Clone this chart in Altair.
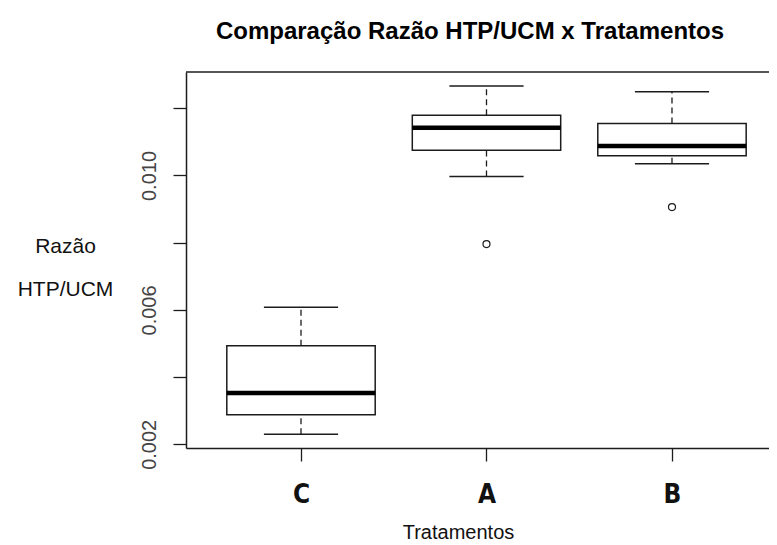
import json
import altair as alt
import pandas as pd

# ---- data ----
categories = ["C", "A", "B"]
positions = [1, 2, 3]
whisker_low = [0.00230, 0.00997, 0.01035]
q1 = [0.00288, 0.01075, 0.01059]
median = [0.00353, 0.01142, 0.01088]
q3 = [0.00493, 0.01179, 0.01155]
whisker_high = [0.00608, 0.01266, 0.01249]
outlier_category = ["A", "B"]
outlier_position = [2, 3]
outlier_value = [0.00796, 0.00906]
y_ticks = [0.002, 0.004, 0.006, 0.008, 0.010, 0.012]
y_labelled = ["0.002", "0.006", "0.010"]
title_text = ["Comparação Razão HTP/UCM x Tratamentos"]

box_df = pd.DataFrame({
    "cat": categories, "pos": positions, "lo": whisker_low, "q1": q1,
    "med": median, "q3": q3, "hi": whisker_high,
})
out_df = pd.DataFrame({"cat": outlier_category, "pos": outlier_position, "val": outlier_value})
frame_df = pd.DataFrame({"k": [0]})
title_df = pd.DataFrame({"t": title_text})

W, H = 583, 376
FONT = "Liberation Sans"
INK = "#1c1c1c"

xscale = alt.Scale(domain=[0.38, 3.523], nice=False, zero=False)
yscale = alt.Scale(domain=[0.00189, 0.01308], nice=False, zero=False)

x_label_expr = json.dumps(categories) + "[datum.value - 1]"
y_label_expr = ("indexof(" + json.dumps(y_labelled) + ", format(datum.value, '.3f')) >= 0"
                " ? format(datum.value, '.3f') : ''")

base = alt.Chart(box_df).transform_calculate(
    xl="datum.pos - 0.4", xr="datum.pos + 0.4",
    cl="datum.pos - 0.2", cr="datum.pos + 0.2",
)

x_axis = alt.Axis(
    values=positions, labelExpr=x_label_expr, title="Tratamentos",
    grid=False, domainColor=INK, domainWidth=1.5, tickColor=INK, tickWidth=1.3,
    tickSize=13, labelFont="Liberation Sans Narrow, DejaVu Sans Condensed, sans-serif",
    labelFontWeight="bold", labelFontSize=26, labelColor="#111",
    labelBaseline="alphabetic", labelPadding=41, labelAngle=0,
    titleFont=FONT, titleFontSize=20, titleFontWeight="normal", titleColor="#111",
    titleBaseline="alphabetic", titleY=90, titleX=272, titleAnchor="start", titleAlign="center",
)
y_axis = alt.Axis(
    values=y_ticks, labelExpr=y_label_expr, title=["Razão", "HTP/UCM"],
    grid=False, domainColor=INK, domainWidth=1.5, tickColor=INK, tickWidth=1.3,
    tickSize=13, labelFont=FONT, labelFontSize=20, labelColor="#444",
    labelAngle=-90, labelAlign="center", labelBaseline="bottom", labelPadding=14,
    titleFont=FONT, titleFontSize=21, titleFontWeight="normal", titleColor="#111",
    titleAngle=0, titleAlign="center", titleBaseline="alphabetic",
    titleX=-121, titleY=180, titleLineHeight=43, titleAnchor="start",
)

boxes = base.mark_rect(fill="white", stroke=INK, strokeWidth=1.5).encode(
    x=alt.X("xl:Q", scale=xscale, axis=x_axis),
    x2="xr:Q",
    y=alt.Y("q1:Q", scale=yscale, axis=y_axis),
    y2="q3:Q",
)
medians = base.mark_rule(color="black", strokeWidth=4.5).encode(
    x=alt.X("xl:Q", scale=xscale, axis=x_axis), x2="xr:Q",
    y=alt.Y("med:Q", scale=yscale, axis=y_axis),
)
upper_whisker = base.mark_rule(color=INK, strokeWidth=1.3, strokeDash=[6, 4]).encode(
    x=alt.X("pos:Q", scale=xscale, axis=x_axis),
    y=alt.Y("q3:Q", scale=yscale, axis=y_axis), y2="hi:Q",
)
lower_whisker = base.mark_rule(color=INK, strokeWidth=1.3, strokeDash=[6, 4]).encode(
    x=alt.X("pos:Q", scale=xscale, axis=x_axis),
    y=alt.Y("lo:Q", scale=yscale, axis=y_axis), y2="q1:Q",
)
upper_cap = base.mark_rule(color=INK, strokeWidth=1.5).encode(
    x=alt.X("cl:Q", scale=xscale, axis=x_axis), x2="cr:Q",
    y=alt.Y("hi:Q", scale=yscale, axis=y_axis),
)
lower_cap = base.mark_rule(color=INK, strokeWidth=1.5).encode(
    x=alt.X("cl:Q", scale=xscale, axis=x_axis), x2="cr:Q",
    y=alt.Y("lo:Q", scale=yscale, axis=y_axis),
)
outliers = alt.Chart(out_df).mark_point(
    shape="circle", size=49, filled=False, color=INK, strokeWidth=1.2, opacity=1
).encode(
    x=alt.X("pos:Q", scale=xscale, axis=x_axis),
    y=alt.Y("val:Q", scale=yscale, axis=y_axis),
)
top_line = alt.Chart(frame_df).mark_rule(color=INK, strokeWidth=1.5).encode(
    x=alt.value(0), x2=alt.value(W), y=alt.value(0)
)
title = alt.Chart(title_df).mark_text(
    font=FONT, fontSize=24, fontWeight="bold", color="black",
    align="center", baseline="alphabetic",
).encode(x=alt.value(284), y=alt.value(-33), text="t:N")

chart = alt.layer(
    boxes, medians, upper_whisker, lower_whisker, upper_cap, lower_cap, outliers,
    top_line, title
).properties(
    width=W, height=H,
    autosize=alt.AutoSizeParams(type="none"),
    padding={"left": 178, "top": 64, "right": 0, "bottom": 97},
    background="white",
).configure_view(stroke=None)

chart.save("out.html", embed_options={"renderer": "svg", "actions": False})
